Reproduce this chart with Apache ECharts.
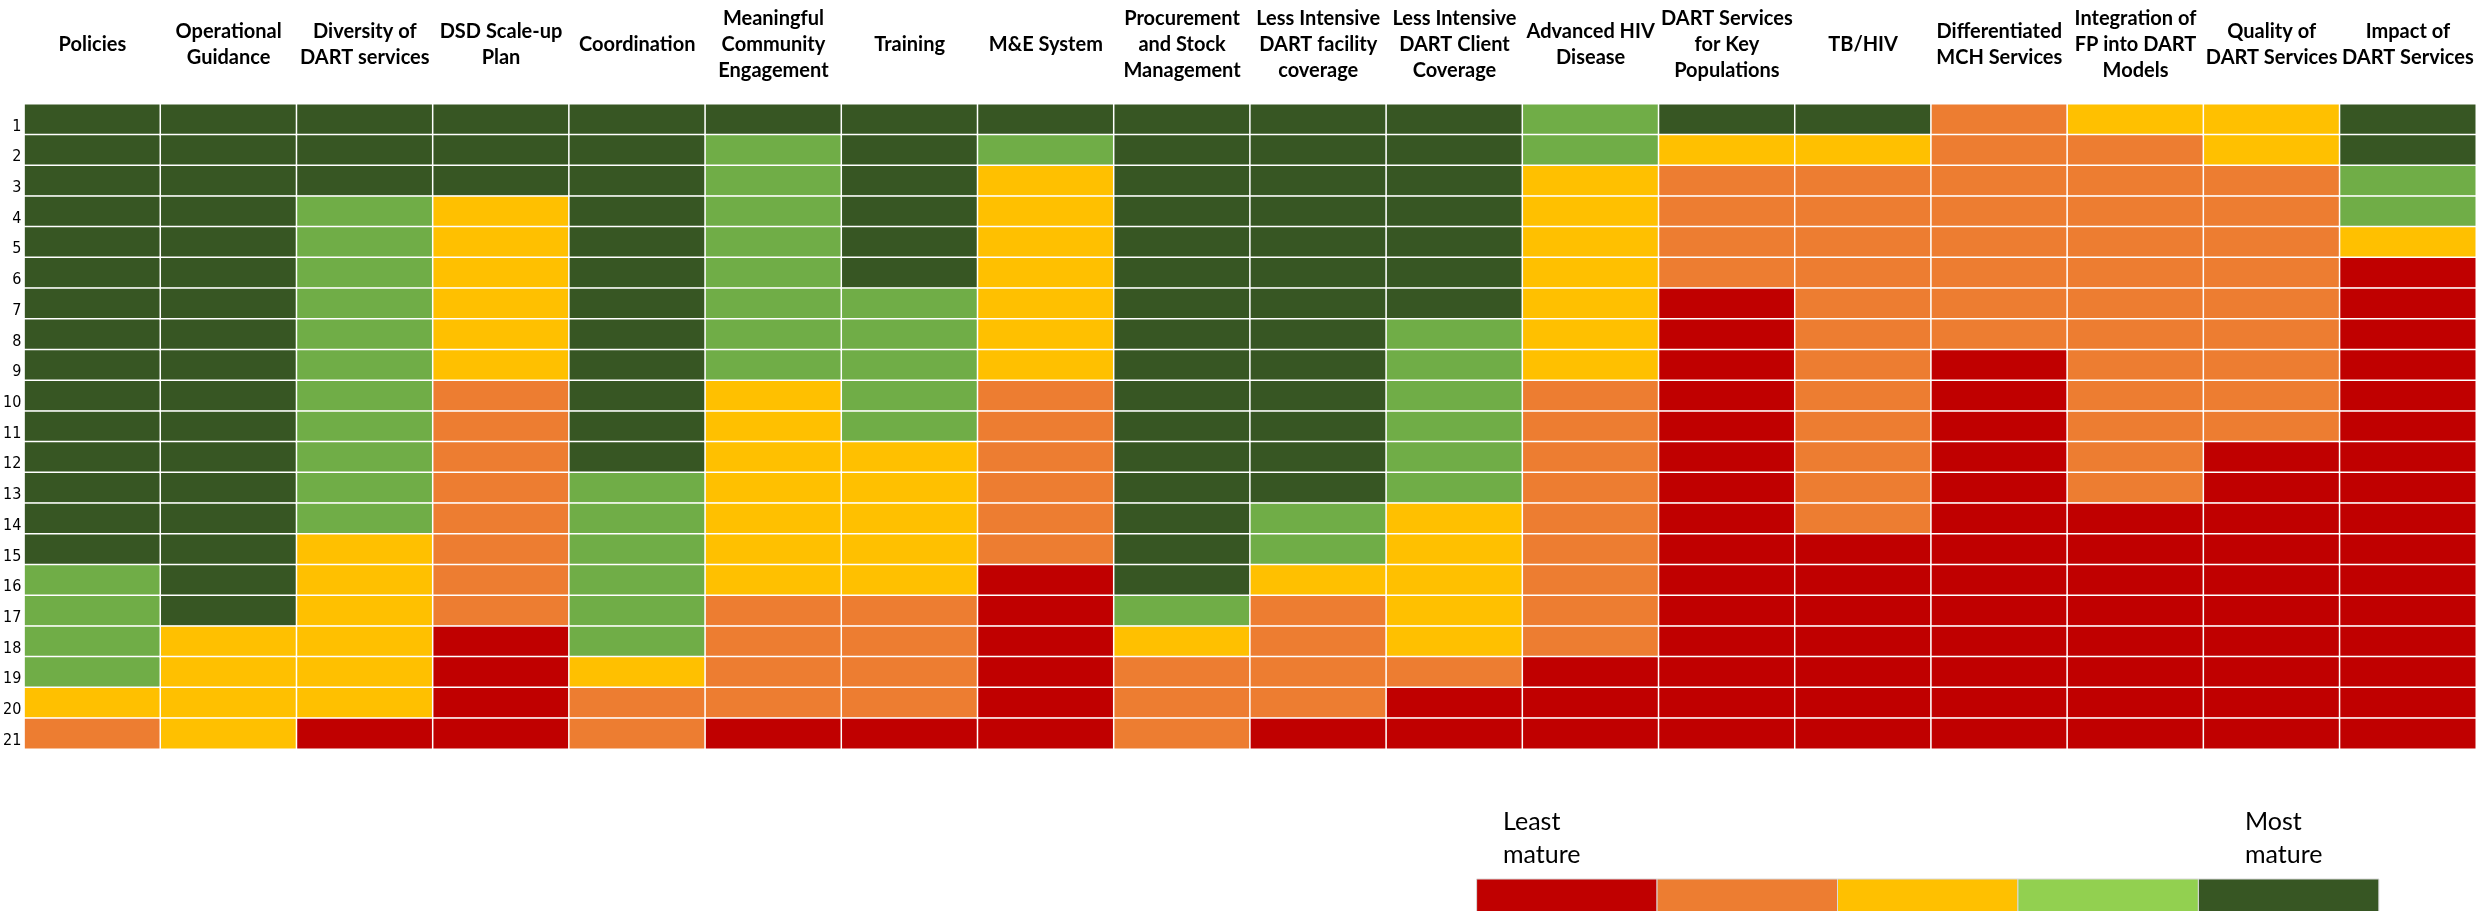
<!DOCTYPE html>
<html>
<head>
<meta charset="utf-8">
<script src="https://cdn.jsdelivr.net/npm/echarts@6/dist/echarts.min.js"></script>
<style>
html,body{margin:0;padding:0;background:#fff;}
#chart{width:2484px;height:911px;}
</style>
</head>
<body>
<div id="chart"></div>
<script>
// Column categories (headers) and their displayed tick labels
const categories = ["Policies","Operational Guidance","Diversity of DART services","DSD Scale-up Plan","Coordination","Meaningful Community Engagement","Training","M&E System","Procurement and Stock Management","Less Intensive DART facility coverage","Less Intensive DART Client Coverage","Advanced HIV Disease","DART Services for Key Populations","TB/HIV","Differentiated MCH Services","Integration of FP into DART Models","Quality of DART Services","Impact of DART Services"];
const headerLabels = ["Policies","Operational\nGuidance","Diversity of\nDART services","DSD Scale-up\nPlan","Coordination","Meaningful\nCommunity\nEngagement","Training","M&E System","Procurement\nand Stock\nManagement","Less Intensive\nDART facility\ncoverage","Less Intensive\nDART Client\nCoverage","Advanced HIV\nDisease","DART Services\nfor Key\nPopulations","TB/HIV","Differentiated\nMCH Services","Integration of\nFP into DART\nModels","Quality of\nDART Services","Impact of\nDART Services"];
const rowLabels = ["1","2","3","4","5","6","7","8","9","10","11","12","13","14","15","16","17","18","19","20","21"];

// Maturity level per row (1 = least mature ... 5 = most mature)
const policies      = [5,5,5,5,5,5,5,5,5,5,5,5,5,5,5,4,4,4,4,3,2];
const operational   = [5,5,5,5,5,5,5,5,5,5,5,5,5,5,5,5,5,3,3,3,3];
const diversity     = [5,5,5,4,4,4,4,4,4,4,4,4,4,4,3,3,3,3,3,3,1];
const dsdScaleUp    = [5,5,5,3,3,3,3,3,3,2,2,2,2,2,2,2,2,1,1,1,1];
const coordination  = [5,5,5,5,5,5,5,5,5,5,5,5,4,4,4,4,4,4,3,2,2];
const community     = [5,4,4,4,4,4,4,4,4,3,3,3,3,3,3,3,2,2,2,2,1];
const training      = [5,5,5,5,5,5,4,4,4,4,4,3,3,3,3,3,2,2,2,2,1];
const meSystem      = [5,4,3,3,3,3,3,3,3,2,2,2,2,2,2,1,1,1,1,1,1];
const procurement   = [5,5,5,5,5,5,5,5,5,5,5,5,5,5,5,5,4,3,2,2,2];
const facilityCov   = [5,5,5,5,5,5,5,5,5,5,5,5,5,4,4,3,2,2,2,2,1];
const clientCov     = [5,5,5,5,5,5,5,4,4,4,4,4,4,3,3,3,3,3,2,1,1];
const advancedHIV   = [4,4,3,3,3,3,3,3,3,2,2,2,2,2,2,2,2,2,1,1,1];
const keyPops       = [5,3,2,2,2,2,1,1,1,1,1,1,1,1,1,1,1,1,1,1,1];
const tbHiv         = [5,3,2,2,2,2,2,2,2,2,2,2,2,2,1,1,1,1,1,1,1];
const mchServices   = [2,2,2,2,2,2,2,2,1,1,1,1,1,1,1,1,1,1,1,1,1];
const fpIntegration = [3,2,2,2,2,2,2,2,2,2,2,2,2,1,1,1,1,1,1,1,1];
const quality       = [3,3,2,2,2,2,2,2,2,2,2,1,1,1,1,1,1,1,1,1,1];
const impact        = [5,5,4,4,3,1,1,1,1,1,1,1,1,1,1,1,1,1,1,1,1];

const columns = [policies,operational,diversity,dsdScaleUp,coordination,community,training,meSystem,procurement,facilityCov,clientCov,advancedHIV,keyPops,tbHiv,mchServices,fpIntegration,quality,impact];

const levelColors = ['#C00000','#ED7D31','#FFC000','#70AD47','#375623'];
const legendColors = ['#C00000','#ED7D31','#FFC000','#92D050','#375623'];

const data = [];
columns.forEach((col, x) => col.forEach((v, y) => data.push([x, y, v])));

const chart = echarts.init(document.getElementById('chart'), null, {renderer: 'canvas'});

const legendLeft = 1476.6, legendW = 180.45, legendTop = 879, legendH = 40;
const legendGraphics = legendColors.map((c, i) => ({
  type: 'rect',
  shape: {x: legendLeft + i * legendW, y: legendTop, width: legendW, height: legendH},
  style: {fill: c, stroke: '#d9d9d9', lineWidth: 1}
}));
legendGraphics.push({
  type: 'text', left: 1503, top: 805,
  style: {text: 'Least\nmature', font: '25px Lato', lineHeight: 33, fill: '#000'}
});
legendGraphics.push({
  type: 'text', left: 2245, top: 805,
  style: {text: 'Most\nmature', font: '25px Lato', lineHeight: 33, fill: '#000'}
});

chart.setOption({
  animation: false,
  backgroundColor: '#fff',
  grid: {left: 23, right: 8, top: 104, bottom: 162, containLabel: false},
  xAxis: {
    type: 'category',
    position: 'top',
    data: categories,
    axisLine: {show: false},
    axisTick: {show: false},
    splitLine: {show: false},
    axisLabel: {
      interval: 0,
      margin: 59,
      verticalAlign: 'middle',
      fontFamily: 'Lato',
      fontWeight: 'bold',
      fontSize: 20,
      lineHeight: 26,
      color: '#000',
      formatter: (val, idx) => headerLabels[idx]
    }
  },
  yAxis: {
    type: 'category',
    inverse: true,
    data: rowLabels,
    axisLine: {show: false},
    axisTick: {show: false},
    splitLine: {show: false},
    axisLabel: {
      interval: 0,
      margin: 3,
      verticalAlign: 'top',
      fontFamily: "'Liberation Sans Narrow', 'DejaVu Sans Condensed', sans-serif",
      fontSize: 16,
      lineHeight: 14,
      color: '#000'
    }
  },
  visualMap: {
    show: false,
    type: 'piecewise',
    dimension: 2,
    pieces: levelColors.map((c, i) => ({value: i + 1, color: c}))
  },
  series: [{
    type: 'heatmap',
    data: data,
    itemStyle: {borderColor: '#ffffff', borderWidth: 1.5},
    emphasis: {disabled: true}
  }],
  graphic: legendGraphics
});
</script>
</body>
</html>
